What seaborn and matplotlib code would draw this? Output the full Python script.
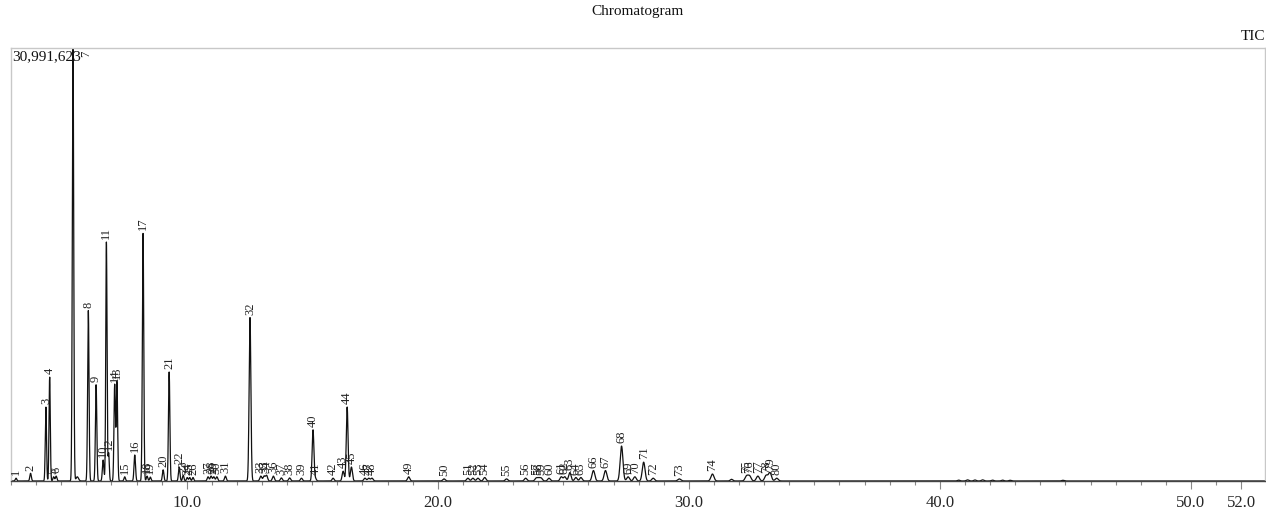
import numpy as np
import pandas as pd
import matplotlib
matplotlib.use("Agg")
import matplotlib.pyplot as plt
import seaborn as sns

# Peak table (retention time in min, height in counts)
peak_ids = list(range(1, 81))
peak_rt = [
    3.20, 3.78, 4.39, 4.54, 4.70, 4.80, 5.47, 6.08, 6.39, 6.67,
    6.80, 6.89, 7.22, 7.13, 7.53, 7.93, 8.26, 8.42, 8.55, 9.06,
    9.30, 9.70, 9.86, 10.02, 10.12, 10.25, 10.85, 10.97, 11.08, 11.20,
    11.54, 12.52, 12.95, 13.18, 13.08, 13.45, 13.77, 14.10, 14.57, 15.03,
    15.12, 15.83, 16.23, 16.39, 16.56, 17.10, 17.25, 17.38, 18.84, 20.25,
    21.20, 21.40, 21.60, 21.87, 22.74, 23.50, 23.92, 24.02, 24.12, 24.43,
    24.92, 25.06, 25.26, 25.50, 25.70, 26.20, 26.68, 27.32, 27.58, 27.85,
    28.20, 28.58, 29.62, 30.94, 32.30, 32.42, 32.75, 33.08, 33.23, 33.50,
]
peak_height = [
    0.20e6, 0.55e6, 5.30e6, 7.45e6, 0.30e6, 0.35e6, 30.99e6, 12.20e6, 6.90e6, 1.50e6,
    17.10e6, 2.00e6, 7.10e6, 6.90e6, 0.30e6, 1.86e6, 17.75e6, 0.35e6, 0.28e6, 0.80e6,
    7.80e6, 1.00e6, 0.40e6, 0.25e6, 0.25e6, 0.25e6, 0.30e6, 0.35e6, 0.30e6, 0.30e6,
    0.35e6, 11.70e6, 0.35e6, 0.40e6, 0.35e6, 0.35e6, 0.22e6, 0.22e6, 0.20e6, 3.65e6,
    0.20e6, 0.20e6, 0.70e6, 5.30e6, 1.00e6, 0.20e6, 0.20e6, 0.20e6, 0.30e6, 0.15e6,
    0.20e6, 0.20e6, 0.20e6, 0.25e6, 0.15e6, 0.20e6, 0.20e6, 0.20e6, 0.20e6, 0.20e6,
    0.30e6, 0.30e6, 0.60e6, 0.25e6, 0.25e6, 0.75e6, 0.75e6, 2.50e6, 0.30e6, 0.30e6,
    1.35e6, 0.20e6, 0.15e6, 0.50e6, 0.35e6, 0.35e6, 0.35e6, 0.40e6, 0.60e6, 0.20e6,
]
peak_width = [
    0.03, 0.03, 0.025, 0.025, 0.03, 0.03, 0.028, 0.028, 0.028, 0.03,
    0.025, 0.025, 0.028, 0.028, 0.03, 0.03, 0.028, 0.03, 0.03, 0.03,
    0.028, 0.03, 0.03, 0.03, 0.03, 0.03, 0.035, 0.035, 0.035, 0.035,
    0.035, 0.035, 0.04, 0.04, 0.04, 0.04, 0.04, 0.04, 0.04, 0.035,
    0.04, 0.04, 0.04, 0.035, 0.04, 0.045, 0.045, 0.045, 0.045, 0.05,
    0.05, 0.05, 0.05, 0.05, 0.05, 0.05, 0.05, 0.05, 0.05, 0.05,
    0.05, 0.05, 0.05, 0.05, 0.05, 0.055, 0.055, 0.055, 0.055, 0.055,
    0.055, 0.055, 0.06, 0.06, 0.06, 0.06, 0.06, 0.06, 0.06, 0.06,
]

# small unlabelled bumps in the trace
minor_rt = [5.64, 31.70, 40.75, 41.10, 41.40, 41.70, 42.10, 42.50, 42.80, 44.90]
minor_height = [0.30e6, 0.12e6, 0.06e6, 0.08e6, 0.07e6, 0.08e6, 0.06e6, 0.06e6, 0.05e6, 0.05e6]

y_max = 30991623
major_ticks = [10.0, 20.0, 30.0, 40.0, 50.0, 52.0]

# build the TIC trace from the peak table
t = np.linspace(3.0, 53.0, 12001)
signal = np.zeros_like(t)
for rt, h, w in zip(peak_rt, peak_height, peak_width):
    signal += h * np.exp(-0.5 * ((t - rt) / w) ** 2)
for rt, h in zip(minor_rt, minor_height):
    signal += h * np.exp(-0.5 * ((t - rt) / 0.05) ** 2)
trace = pd.DataFrame({"time": t, "intensity": signal})

sns.set_theme(style="white")
plt.rcParams["font.family"] = ["Liberation Serif", "DejaVu Serif"]

fig = plt.figure(figsize=(12.66, 5.12), dpi=100)
ax = fig.add_axes([11 / 1266, 31 / 512, 1254 / 1266, 433 / 512])

sns.lineplot(data=trace, x="time", y="intensity", ax=ax, color="#111111",
             linewidth=0.9, estimator=None, sort=False)

ax.set_xlim(3.0, 52.95)
ax.set_ylim(0, y_max)
ax.set_xlabel("")
ax.set_ylabel("")
ax.set_yticks([])
ax.set_xticks(major_ticks)
ax.set_xticklabels([f"{v:.1f}" for v in major_ticks], fontsize=12)
ax.set_xticks(np.arange(3, 53, 1.0), minor=True)
ax.tick_params(axis="x", which="major", direction="out", length=6, width=0.8,
               color="#888888", pad=4, bottom=True)
ax.tick_params(axis="x", which="minor", direction="out", length=3, width=0.8,
               color="#888888", bottom=True)

for side in ["left", "top", "right"]:
    ax.spines[side].set_color("#c8c8c8")
    ax.spines[side].set_linewidth(1.0)
ax.spines["bottom"].set_color("#444444")
ax.spines["bottom"].set_linewidth(1.0)

# peak number labels
for pid, rt, h in zip(peak_ids, peak_rt, peak_height):
    if h >= y_max * 0.98:
        ax.annotate(str(pid), xy=(rt, y_max), xytext=(5, -2), textcoords="offset points",
                    rotation=90, ha="left", va="top", fontsize=9, color="#222222")
    else:
        ax.annotate(str(pid), xy=(rt, h), xytext=(0, 2), textcoords="offset points",
                    rotation=90, ha="center", va="bottom", fontsize=9, color="#222222")

ax.text(0.001, 0.995, f"{y_max:,}", transform=ax.transAxes, ha="left", va="top",
        fontsize=11, color="#111111")

fig.text(638 / 1266, 1 - 12 / 512, "Chromatogram", ha="center", va="center",
         fontsize=11, color="#111111")
fig.text(1265 / 1266, 1 - 37 / 512, "TIC", ha="right", va="center",
         fontsize=11, color="#111111")

fig.savefig("out.png", dpi=100)
plt.close(fig)
